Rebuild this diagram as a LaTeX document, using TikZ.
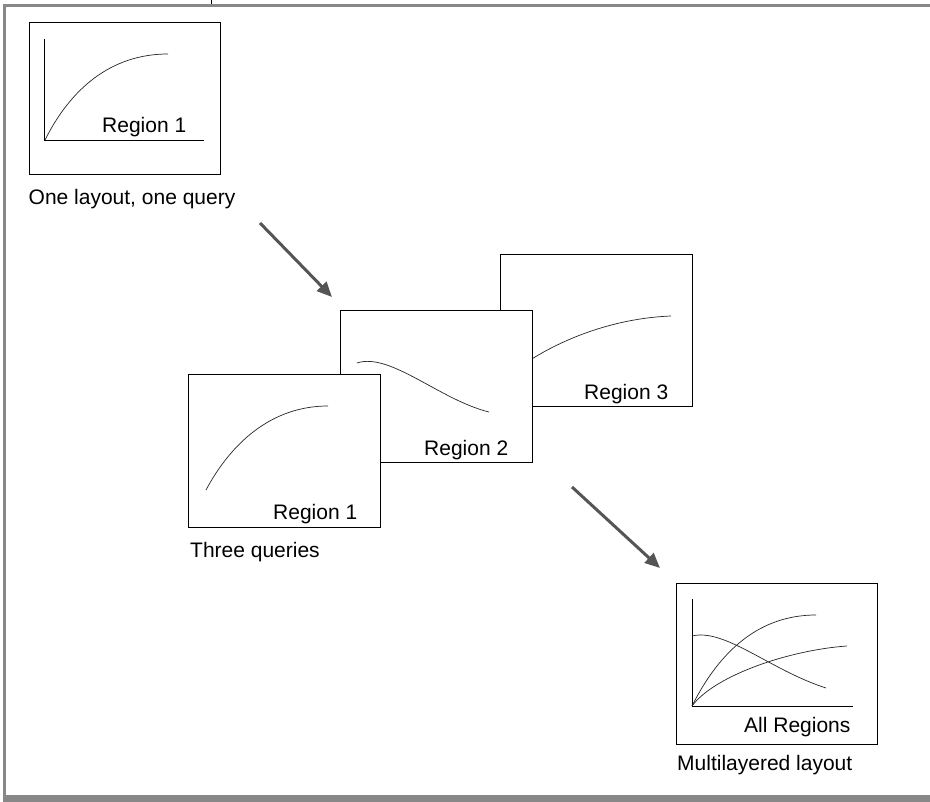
\documentclass[tikz,border=0pt]{standalone}
\usepackage{fontspec}
\setmainfont{Liberation Sans}
\usetikzlibrary{arrows.meta}
\definecolor{framegray}{HTML}{888888}
\definecolor{arrowgray}{HTML}{555555}
\begin{document}
\begin{tikzpicture}[x=1pt,y=-1pt,
  panel/.style={draw=black,line width=1pt,fill=white,rectangle,inner sep=0pt,outer sep=0pt,anchor=north west,minimum width=192pt,minimum height=152pt},
  lbl/.style={inner sep=0pt,anchor=base west,font=\fontsize{21}{25}\selectfont},
  plot/.style={line width=0.7pt,draw=black!85},
  axis/.style={line width=1pt,draw=black},
  flow/.style={draw=arrowgray,line width=3pt,-{Triangle[length=15pt,width=13pt]}}]
\useasboundingbox (0,0) rectangle (930,802);
% outer frame
\fill[framegray] (3,4) rectangle (930,7);
\fill[framegray] (3,4) rectangle (6,802);
\fill[framegray] (3,795) rectangle (930,802);
\draw[line width=0.8pt] (211,0) -- (211,4);

% one layout, one query
\node[panel,minimum width=191pt] (single) at (29,23) {};
\draw[axis] (44,39) -- (44,141) -- (204,141);
\draw[plot] (45,140) .. controls (70,90) and (110,54) .. (168,54);
\node[lbl] (sreg) at (102,133) {Region 1};
\node[lbl] (scap) at (28.5,205) {One layout, one query};

% three queries
\node[panel] (r3) at (500,255) {};
\draw[plot] (531,359.5) .. controls (570,335) and (620,318) .. (671,316);
\node[lbl] (r3l) at (584,400) {Region 3};
\node[panel] (r2) at (340,311) {};
\draw[plot] (357,363) .. controls (390,352) and (440,400) .. (489,412);
\node[lbl] (r2l) at (424,456) {Region 2};
\node[panel] (r1) at (188,375) {};
\draw[plot] (206,490) .. controls (230,445) and (270,406) .. (328,406);
\node[lbl] (r1l) at (273,519) {Region 1};
\node[lbl] (tcap) at (190,557) {Three queries};

% multilayered
\node[panel,minimum width=201pt,minimum height=161pt] (multi) at (676,583) {};
\draw[axis] (692,599) -- (692,706) -- (853,706);
\draw[plot] (692,706) .. controls (720,650) and (760,615) .. (816,615);
\draw[plot] (692,706) .. controls (715,675) and (790,650) .. (847,646);
\draw[plot] (692,636) .. controls (725,628) and (770,670) .. (826,688);
\node[lbl] (ml) at (744,732) {All Regions};
\node[lbl] (mcap) at (677,770) {Multilayered layout};

% arrows
\coordinate (a1s) at (260,223);
\coordinate (a1e) at (332,297);
\coordinate (a2s) at (572,487);
\coordinate (a2e) at (660,568);
\draw[flow] (a1s) -- (a1e);
\draw[flow] (a2s) -- (a2e);
\end{tikzpicture}
\end{document}
